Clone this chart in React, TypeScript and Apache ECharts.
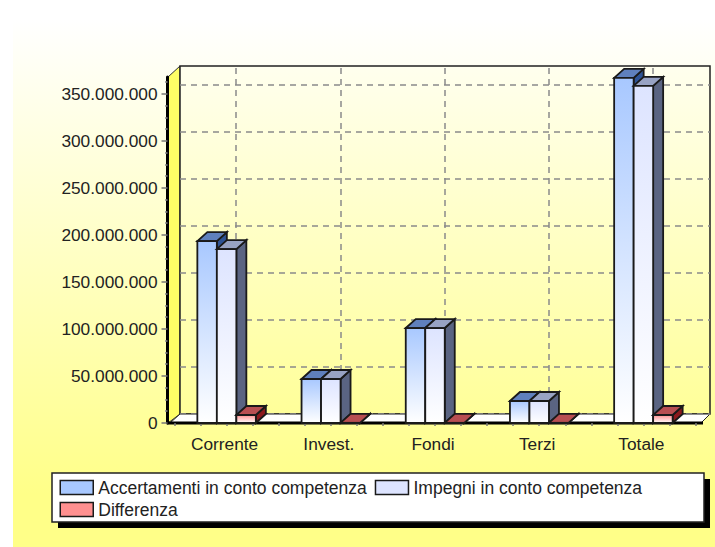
import React, { useEffect, useRef } from "react";
import * as echarts from "echarts";

const categories = ["Corrente", "Invest.", "Fondi", "Terzi", "Totale"];
const accertamenti = [193500000, 46800000, 101000000, 23400000, 367000000];
const impegni = [185000000, 46800000, 101000000, 23400000, 358500000];
const differenza = [8500000, 200000, 200000, 200000, 8500000];
const seriesNames = ["Accertamenti in conto competenza", "Impegni in conto competenza", "Differenza"];
const majorTicks = [0, 50000000, 100000000, 150000000, 200000000, 250000000, 300000000, 350000000];
const minorTicks: number[] = [];
majorTicks.forEach((t) => [1, 2, 3].forEach((k) => minorTicks.push(t + k * 12500000)));
const yMax = 368000000;

const FONT = "'Liberation Sans', Arial, sans-serif";
const FS = 17.3;
const palette = [
  { front: "#a8c8ff", top: "#5f80bd", side: "#2d5294" },
  { front: "#dde4ff", top: "#98a3c4", side: "#5a6482" },
  { front: "#ff9090", top: "#b84f52", side: "#8c1a1e" },
];
const BAR_W = 19.5;
const DX = 10;
const DY = 9;
const STROKE = "#1a1a1a";

function fmt(v: number) {
  return String(v).replace(/\B(?=(\d{3})+(?!\d))/g, ".");
}

function renderBar(params: any, api: any) {
  const s = params.seriesIndex;
  const c = palette[s];
  const top = api.coord([api.value(0), api.value(1)]);
  const base = api.coord([api.value(0), 0]);
  const x0 = top[0] + (s - 1.5) * BAR_W;
  const x1 = x0 + BAR_W;
  const y0 = top[1];
  const y1 = base[1];
  const common = { stroke: STROKE, lineWidth: 1.8 };
  return {
    type: "group",
    children: [
      {
        type: "polygon",
        shape: { points: [[x1, y0], [x1 + DX, y0 - DY], [x1 + DX, y1 - DY], [x1, y1]] },
        style: { fill: c.side, ...common },
      },
      {
        type: "polygon",
        shape: { points: [[x0, y0], [x0 + DX, y0 - DY], [x1 + DX, y0 - DY], [x1, y0]] },
        style: { fill: c.top, ...common },
      },
      {
        type: "rect",
        shape: { x: x0, y: y0, width: BAR_W, height: Math.max(y1 - y0, 0.1) },
        style: {
          fill: new echarts.graphic.LinearGradient(0, 0, 0, 1, [
            { offset: 0, color: c.front },
            { offset: 1, color: "#ffffff" },
          ]),
          ...common,
        },
      },
    ],
  };
}

export default function App() {
  const ref = useRef<HTMLDivElement>(null);
  useEffect(() => {
    document.body.style.margin = "0";
    const chart = echarts.init(ref.current!, null, { renderer: "svg" });
    const mk = (name: string, values: number[], i: number) => ({
      type: "custom",
      name,
      xAxisIndex: 0,
      yAxisIndex: 0,
      z: 5,
      clip: false,
      silent: true,
      itemStyle: { color: palette[i].front },
      encode: { x: 0, y: 1 },
      data: values.map((v, k) => [k, v]),
      renderItem: renderBar,
    });
    const hiddenX = (gridIndex: number) => ({ type: "value", gridIndex, min: 0, max: 1, show: false });
    const legendBase = {
      left: 59.5,
      padding: 0,
      itemWidth: 33,
      itemHeight: 14,
      itemGap: 8,
      icon: "rect",
      selectedMode: false,
      itemStyle: { borderColor: STROKE, borderWidth: 1.5 },
      textStyle: { color: "#222", fontSize: 17.5, fontFamily: FONT },
    };
    chart.setOption({
      animation: false,
      backgroundColor: "#ffffff",
      textStyle: { fontFamily: FONT },
      grid: [
        { left: 174.5, top: 77, width: 521, height: 346 },
        { left: 180, top: 68, width: 530, height: 346 },
        { left: 184, top: 68, width: 521, height: 346 },
        { left: 167.5, top: 77, width: 521, height: 346 },
      ],
      xAxis: [
        {
          type: "category",
          gridIndex: 0,
          position: "bottom",
          data: categories,
          axisLine: { show: false },
          axisTick: { alignWithLabel: true, length: 7, lineStyle: { color: "#777", width: 1.5 } },
          axisLabel: { color: "#222", fontSize: FS, fontFamily: FONT, margin: 12, padding: [0, 4, 0, 0] },
        },
        {
          type: "value",
          gridIndex: 0,
          position: "bottom",
          min: 0,
          max: 20,
          interval: 1,
          axisLine: { show: false },
          axisTick: { length: 3, lineStyle: { color: "#777", width: 1.5 } },
          axisLabel: { show: false },
          splitLine: { show: false },
        },
        hiddenX(1),
        {
          type: "category",
          gridIndex: 2,
          data: categories,
          axisLine: { show: false },
          axisTick: { show: false },
          axisLabel: { show: false },
          splitLine: {
            show: true,
            alignWithLabel: true,
            lineStyle: { color: "#8a8a8a", type: [6, 5], width: 1.5 },
          },
        },
        hiddenX(3),
      ],
      yAxis: [
        { type: "value", gridIndex: 0, min: 0, max: yMax, show: false },
        {
          type: "value",
          gridIndex: 3,
          position: "left",
          min: 0,
          max: yMax,
          axisLine: { show: true, lineStyle: { color: "#000", width: 3 } },
          axisTick: { length: 6, customValues: majorTicks, lineStyle: { color: "#777", width: 1.5 } },
          axisLabel: {
            color: "#222",
            fontSize: FS,
            fontFamily: FONT,
            margin: 10,
            customValues: majorTicks,
            formatter: (v: number) => fmt(v),
          },
          splitLine: { show: false },
        },
        {
          type: "value",
          gridIndex: 3,
          position: "left",
          min: 0,
          max: yMax,
          axisLine: { show: false },
          axisTick: { length: 2.5, customValues: minorTicks, lineStyle: { color: "#888", width: 1.5 } },
          axisLabel: { show: false },
          splitLine: { show: false },
        },
        {
          type: "value",
          gridIndex: 1,
          min: 0,
          max: yMax,
          interval: 50000000,
          axisLine: { show: false },
          axisTick: { show: false },
          axisLabel: { show: false },
          splitLine: {
            show: true,
            showMaxLine: false,
            lineStyle: { color: "#8a8a8a", type: [6, 5], width: 1.5 },
          },
        },
        { type: "value", gridIndex: 2, min: 0, max: yMax, show: false },
      ],
      legend: [
        { ...legendBase, top: 478.5, data: seriesNames.slice(0, 2) },
        { ...legendBase, top: 500.5, data: seriesNames.slice(2) },
      ],
      graphic: [
        {
          type: "rect",
          z: -20,
          shape: { x: 13, y: 20, width: 702, height: 527 },
          style: {
            fill: new echarts.graphic.LinearGradient(0, 0, 0, 1, [
              { offset: 0, color: "#ffffff" },
              { offset: 0.9, color: "#ffff88" },
              { offset: 1, color: "#ffff88" },
            ]),
          },
        },
        {
          type: "polygon",
          z: -15,
          shape: { points: [[168, 77], [180, 66], [180, 414], [168, 423]] },
          style: { fill: "#ffff66", stroke: "#333", lineWidth: 1 },
        },
        {
          type: "rect",
          z: -15,
          shape: { x: 180, y: 66, width: 530, height: 348 },
          style: {
            fill: new echarts.graphic.LinearGradient(0, 0, 0, 1, [
              { offset: 0, color: "#ffffee" },
              { offset: 1, color: "#ffff99" },
            ]),
            stroke: "#222",
            lineWidth: 1.5,
          },
        },
        {
          type: "polygon",
          z: -14,
          shape: { points: [[170, 423], [180, 414], [710, 414], [701, 423]] },
          style: { fill: "#ffffff", stroke: "#222", lineWidth: 1 },
        },
        {
          type: "line",
          z: -13,
          shape: { x1: 167, y1: 423, x2: 703, y2: 423 },
          style: { stroke: "#000", lineWidth: 3 },
        },
        {
          type: "rect",
          z: -12,
          shape: { x: 58, y: 479, width: 652, height: 49 },
          style: { fill: "#000" },
        },
        {
          type: "rect",
          z: -11,
          shape: { x: 52, y: 473, width: 652, height: 49 },
          style: { fill: "#fff", stroke: "#222", lineWidth: 1.5 },
        },
      ],
      series: [
        mk(seriesNames[0], accertamenti, 0),
        mk(seriesNames[1], impegni, 1),
        mk(seriesNames[2], differenza, 2),
      ],
    });
    return () => chart.dispose();
  }, []);
  return <div ref={ref} style={{ width: 715, height: 547 }} />;
}
